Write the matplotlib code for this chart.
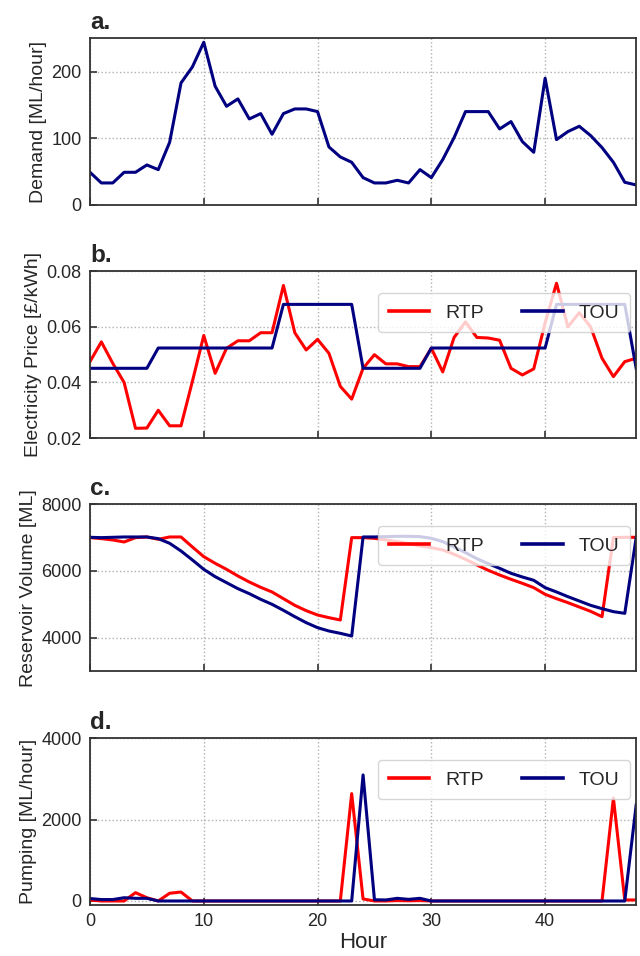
import matplotlib
matplotlib.use("Agg")
import matplotlib.pyplot as plt
import numpy as np

plt.rcParams['font.family'] = ['Liberation Sans', 'DejaVu Sans']

hours = list(range(49))

demand = [49, 33, 33, 49, 49, 60, 53, 94, 183, 207, 244, 178, 148, 159, 129, 137, 106,
          137, 144, 144, 140, 87, 72, 64, 41, 33, 33, 37, 33, 53, 41, 68, 101, 140, 140,
          140, 114, 125, 95, 79, 190, 98, 110, 118, 104, 86, 64, 34, 30]

price_rtp = [0.0475, 0.0546, 0.0469, 0.0400, 0.0235, 0.0236, 0.0300, 0.0244, 0.0244,
             0.0404, 0.0569, 0.0433, 0.0523, 0.0550, 0.0550, 0.0579, 0.0579, 0.0749,
             0.0579, 0.0517, 0.0555, 0.0505, 0.0386, 0.0340, 0.0451, 0.0500, 0.0467,
             0.0467, 0.0457, 0.0457, 0.0523, 0.0438, 0.0562, 0.0618, 0.0562, 0.0560,
             0.0552, 0.0451, 0.0427, 0.0449, 0.0615, 0.0757, 0.0600, 0.0651, 0.0600,
             0.0487, 0.0421, 0.0475, 0.0487]

price_tou = [0.0451] * 6 + [0.0524] * 11 + [0.0681] * 7 + [0.0451] * 6 + [0.0524] * 11 + \
            [0.0681] * 7 + [0.0451]

vol_rtp = [7000, 6970, 6930, 6870, 7000, 7020, 6950, 7020, 7020, 6720, 6430, 6230, 6050,
           5850, 5670, 5510, 5370, 5170, 4970, 4810, 4680, 4600, 4530, 7000, 7000, 6980,
           6930, 6880, 6820, 6750, 6700, 6630, 6500, 6350, 6180, 6020, 5880, 5750, 5630,
           5500, 5300, 5170, 5050, 4920, 4790, 4630, 7000, 7010, 7010]

vol_tou = [7010, 7000, 7010, 7020, 7020, 7020, 6970, 6830, 6600, 6330, 6050, 5830, 5650,
           5470, 5320, 5150, 5000, 4820, 4630, 4450, 4300, 4200, 4130, 4050, 7020, 7020,
           7030, 7040, 7040, 7030, 6980, 6880, 6720, 6550, 6370, 6220, 6080, 5930, 5820,
           5720, 5500, 5370, 5230, 5100, 4970, 4870, 4780, 4730, 7000]

pump_rtp = [25, 0, 0, 0, 205, 80, 0, 190, 220, 0, 0, 0, 0, 0, 0, 0, 0, 0, 0, 0, 0, 0, 0,
            2640, 50, 0, 0, 10, 5, 10, 0, 0, 0, 0, 0, 0, 0, 0, 0, 0, 0, 0, 0, 0, 0, 0,
            2530, 25, 25]

pump_tou = [60, 35, 35, 80, 65, 65, 0, 0, 0, 0, 0, 0, 0, 0, 0, 0, 0, 0, 0, 0, 0, 0, 0,
            0, 3100, 30, 25, 65, 40, 65, 0, 0, 0, 0, 0, 0, 0, 0, 0, 0, 0, 0, 0, 0, 0, 0,
            0, 0, 2360]

RED = '#ff0000'
NAVY = '#000080'
TXT = '#262626'

fig = plt.figure(figsize=(6.4, 9.56), dpi=100)
left, width = 0.1406, 0.994 - 0.1406
bottoms = [0.7856, 0.5418, 0.2981, 0.0533]
height = 0.1744
axes = [fig.add_axes([left, b, width, height]) for b in bottoms]

labels = ['a.', 'b.', 'c.', 'd.']
ylabels = ['Demand [ML/hour]', 'Electricity Price [£/kWh]', 'Reservoir Volume [ML]',
           'Pumping [ML/hour]']

for ax, lab, yl in zip(axes, labels, ylabels):
    ax.set_xlim(0, 48)
    ax.set_xticks([0, 10, 20, 30, 40])
    ax.grid(True, linestyle=':', color='#b0b0b0', linewidth=1.0)
    ax.set_axisbelow(True)
    ax.tick_params(direction='in', length=5, width=1.2, colors='#333333', labelsize=13,
                   labelcolor=TXT, pad=6)
    for s in ax.spines.values():
        s.set_color('#333333')
        s.set_linewidth(1.3)
    ax.set_ylabel(yl, fontsize=14, color=TXT, labelpad=3)
    ax.set_title(lab, loc='left', fontweight='bold', fontsize=17.5, color=TXT, pad=7)
    if ax is not axes[-1]:
        ax.tick_params(labelbottom=False)

axes[0].plot(hours, demand, color=NAVY, lw=2.2)
axes[0].set_ylim(0, 250)
axes[0].set_yticks([0, 100, 200])

axes[1].plot(hours, price_rtp, color=RED, lw=2.2, label='RTP')
axes[1].plot(hours, price_tou, color=NAVY, lw=2.2, label='TOU')
axes[1].set_ylim(0.02, 0.08)
axes[1].set_yticks([0.02, 0.04, 0.06, 0.08])

axes[2].plot(hours, vol_rtp, color=RED, lw=2.2, label='RTP')
axes[2].plot(hours, vol_tou, color=NAVY, lw=2.2, label='TOU')
axes[2].set_ylim(3000, 8000)
axes[2].set_yticks([4000, 6000, 8000])

axes[3].plot(hours, pump_rtp, color=RED, lw=2.2, label='RTP')
axes[3].plot(hours, pump_tou, color=NAVY, lw=2.2, label='TOU')
axes[3].set_ylim(-100, 4000)
axes[3].set_yticks([0, 2000, 4000])
axes[3].set_xlabel('Hour', fontsize=16, color=TXT, labelpad=1)

for ax in axes[1:]:
    leg = ax.legend(loc='upper right', ncol=2, fontsize=14, handlelength=2.1,
                    columnspacing=2.0, handletextpad=0.8, framealpha=0.8,
                    edgecolor='#cccccc', fancybox=True, borderpad=0.55,
                    borderaxespad=0, bbox_to_anchor=(0.989, 0.868))
    for line in leg.get_lines():
        line.set_linewidth(2.6)
    for t in leg.get_texts():
        t.set_color(TXT)

fig.savefig('out.png', dpi=100)
